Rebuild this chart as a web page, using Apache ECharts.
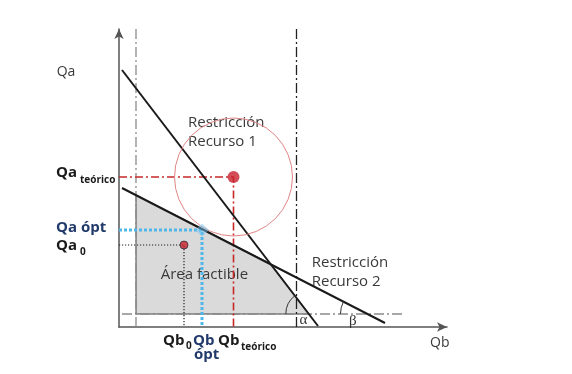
<!DOCTYPE html>
<html><head><meta charset="utf-8">
<script src="https://cdn.jsdelivr.net/npm/echarts/dist/echarts.min.js"></script>
<style>html,body{margin:0;padding:0;background:#fff}#c{width:572px;height:374px}</style>
</head><body><div id="c"></div>
<script>
// Diagram geometry in axis units (Qb horizontal, Qa vertical)
const restriction1 = [[3, 257], [199, 1]];
const restriction2 = [[3, 139], [266, 4]];
const feasibleRegion = [[17, 132], [152, 63], [190, 13], [17, 13]];
const limitQbLeft = [[17, 0], [17, 299]];
const limitQbRight = [[177.5, 0], [177.5, 299]];
const limitQaLow = [[3, 13], [286, 13]];
const theoretical = [114.5, 150];
const optimum = [83, 97];
const current = [65, 82];
const circleRadius = 59;

// Text labels (text, anchor in axis units, style key)
const labelTexts = ['Qa', 'Qa', 'teórico', 'Qa ópt', 'Qa', '0', 'Qb', '0', 'Qb', 'ópt', 'Qb', 'teórico', 'Qb',
  'Restricción', 'Recurso 1', 'Restricción', 'Recurso 2', 'Área factible', 'α', 'β'];
const labelX = [-62.3, -63, -39, -63, -63, -39, 44, 67, 74, 75, 99, 122, 311, 69, 69, 192.7, 192.7, 41.7, 180.5, 230];
const labelY = [255.3, 154.5, 146.5, 99.3, 81.7, 75, -14, -19, -14, -28, -14, -20, -15.7, 204, 185.3, 64, 45.3, 52, 7, 6];
const labelKinds = ['axis', 'bold', 'sub', 'navy', 'bold', 'sub', 'bold', 'sub', 'navy', 'navy', 'bold', 'sub', 'axis',
  'normal', 'normal', 'normal', 'normal', 'normal', 'greek', 'greek'];

const F = '"Open Sans", "DejaVu Sans", sans-serif';
const kindStyle = {
  axis: { font: '14px ' + F, fill: '#3a3a3a' },
  normal: { font: '15px ' + F, fill: '#3a3a3a' },
  bold: { font: 'bold 15px ' + F, fill: '#1a1a1a' },
  navy: { font: 'bold 15px ' + F, fill: '#213a6b' },
  sub: { font: 'bold 10px ' + F, fill: '#1a1a1a' },
  greek: { font: '15px "Liberation Serif", "DejaVu Serif", serif', fill: '#333' }
};

function hitY(line, y) {
  const [a, b] = line;
  return [a[0] + (y - a[1]) * (b[0] - a[0]) / (b[1] - a[1]), y];
}
const angleMarks = [
  { line: restriction1, center: hitY(restriction1, limitQaLow[0][1]), r: 23 },
  { line: restriction2, center: hitY(restriction2, limitQaLow[0][1]), r: 27 }
];

function lineSeries(data, color, width, type, z) {
  return { type: 'line', data: data, symbol: 'none', clip: false, silent: true, z: z || 3,
    lineStyle: { color: color, width: width, type: type }, animation: false };
}

const chart = echarts.init(document.getElementById('c'), null, { renderer: 'canvas' });
const hiddenAxis = {
  type: 'value', axisTick: { show: false }, axisLabel: { show: false }, splitLine: { show: false },
  axisLine: { show: true, symbol: ['none', 'arrow'], symbolSize: [7, 10], lineStyle: { color: '#555', width: 1.5 } }
};
chart.setOption({
  animation: false,
  backgroundColor: '#fff',
  grid: { left: 119, top: 29, width: 328, height: 298 },
  xAxis: Object.assign({}, hiddenAxis, { min: 0, max: 328 }),
  yAxis: Object.assign({}, hiddenAxis, { min: 0, max: 298 }),
  series: [
    { type: 'custom', silent: true, z: 1, data: [[0, 0]],
      renderItem: (p, api) => ({ type: 'polygon',
        shape: { points: feasibleRegion.map(pt => api.coord(pt)) },
        style: { fill: '#dadada', stroke: '#4a4a4a', lineWidth: 1 } }) },
    { type: 'custom', silent: true, z: 2, data: labelTexts.map((t, i) => [labelX[i], labelY[i]]),
      renderItem: (p, api) => {
        const i = p.dataIndex;
        const c = api.coord([labelX[i], labelY[i]]);
        const s = kindStyle[labelKinds[i]];
        return { type: 'text', x: c[0], y: c[1],
          style: { text: labelTexts[i], font: s.font, fill: s.fill, align: 'left', verticalAlign: 'middle' } };
      } },
    lineSeries(limitQbLeft, '#8a8a8a', 1.3, [10, 3, 2, 3]),
    lineSeries(limitQbRight, '#222', 1.3, [10, 3, 2, 3]),
    lineSeries(limitQaLow, '#8a8a8a', 1.3, [10, 3, 2, 3]),
    lineSeries([[0, theoretical[1]], theoretical, [theoretical[0], 0]], '#c62828', 1.6, [8, 3, 2, 3]),
    lineSeries([[0, optimum[1]], optimum, [optimum[0], 0]], '#4fb8e8', 3, [3, 2]),
    lineSeries([[0, current[1]], current, [current[0], 0]], '#222', 1.2, [1.2, 1.8]),
    lineSeries(restriction1, '#1a1a1a', 2, 'solid', 4),
    lineSeries(restriction2, '#1a1a1a', 2, 'solid', 4),
    { type: 'custom', silent: true, z: 5, data: [[theoretical[0], theoretical[1], circleRadius]],
      renderItem: (p, api) => {
        const c = api.coord([api.value(0), api.value(1)]);
        const r = api.size([api.value(2), 0])[0];
        return { type: 'circle', shape: { cx: c[0], cy: c[1], r: r }, style: { fill: 'none', stroke: '#e08585', lineWidth: 1 } };
      } },
    { type: 'custom', silent: true, z: 5, data: angleMarks.map(m => m.center),
      renderItem: (p, api) => {
        const m = angleMarks[p.dataIndex];
        const c = api.coord(m.center);
        const a = api.coord(m.line[0]), b = api.coord(m.line[1]);
        let ang = Math.atan2(a[1] - b[1], a[0] - b[0]);
        if (ang < 0) ang += 2 * Math.PI;
        const r = api.size([m.r, 0])[0];
        return { type: 'arc', shape: { cx: c[0], cy: c[1], r: r, startAngle: Math.PI, endAngle: ang, clockwise: true },
          style: { fill: 'none', stroke: '#333', lineWidth: 1 } };
      } },
    { type: 'scatter', silent: true, z: 6, clip: false, data: [optimum], symbol: 'diamond', symbolSize: [14, 13],
      itemStyle: { color: 'rgba(110,195,240,0.6)' } },
    { type: 'scatter', silent: true, z: 7, clip: false, data: [theoretical], symbolSize: 12,
      itemStyle: { color: '#c8202c' } },
    { type: 'scatter', silent: true, z: 7, clip: false, data: [current], symbolSize: 8,
      itemStyle: { color: '#c8202c', borderColor: '#333', borderWidth: 1 } }
  ]
});
</script>
</body></html>
